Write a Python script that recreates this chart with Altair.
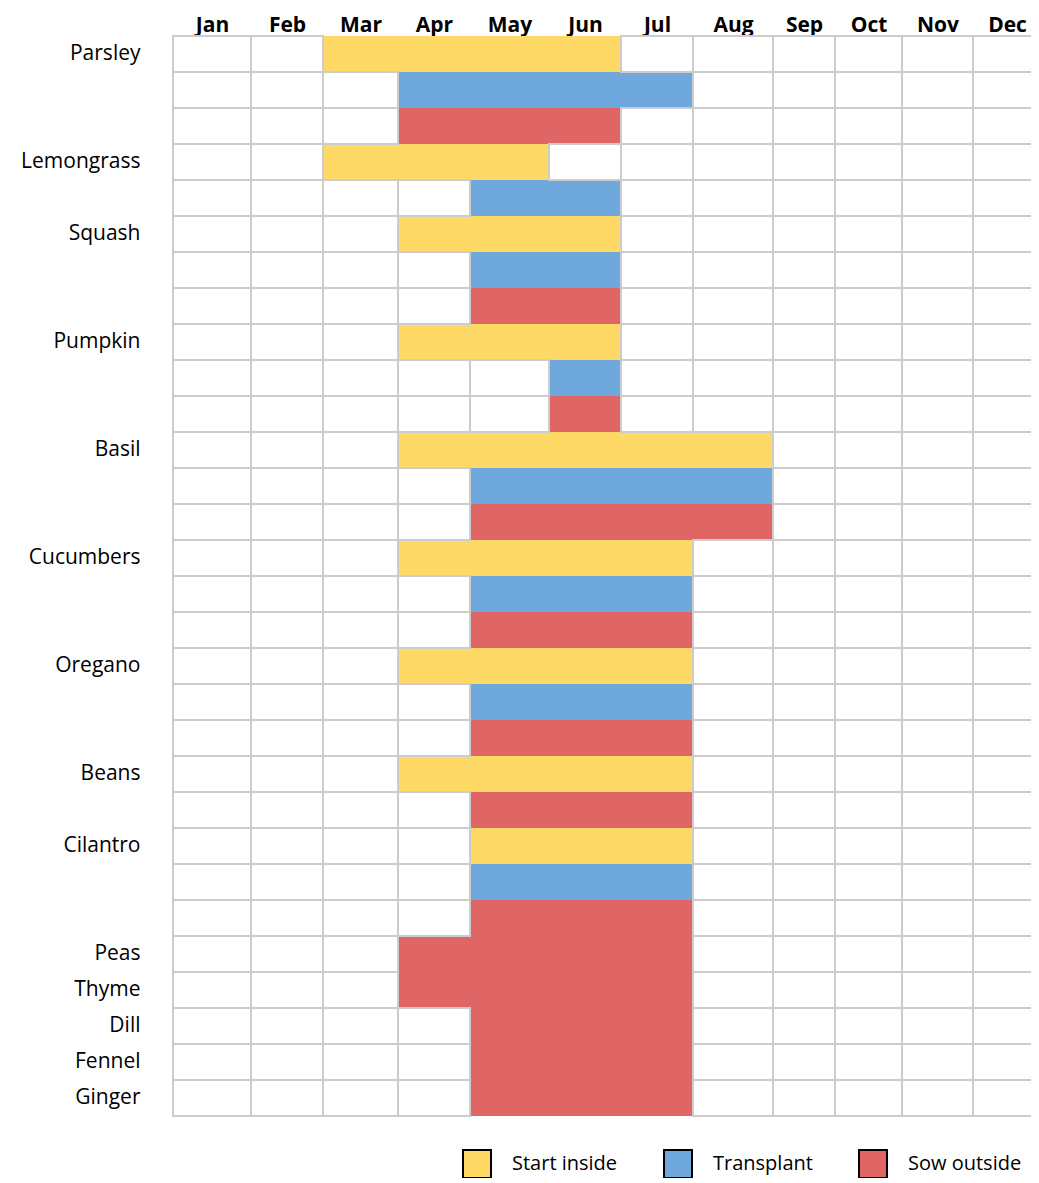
import json
import altair as alt
import pandas as pd

months = ["Jan", "Feb", "Mar", "Apr", "May", "Jun", "Jul", "Aug", "Sep", "Oct", "Nov", "Dec"]

row_plant = ["Parsley", "Parsley", "Parsley",
             "Lemongrass", "Lemongrass",
             "Squash", "Squash", "Squash",
             "Pumpkin", "Pumpkin", "Pumpkin",
             "Basil", "Basil", "Basil",
             "Cucumbers", "Cucumbers", "Cucumbers",
             "Oregano", "Oregano", "Oregano",
             "Beans", "Beans",
             "Cilantro", "Cilantro", "Cilantro",
             "Peas", "Thyme", "Dill", "Fennel", "Ginger"]
row_activity = ["Start inside", "Transplant", "Sow outside",
                "Start inside", "Transplant",
                "Start inside", "Transplant", "Sow outside",
                "Start inside", "Transplant", "Sow outside",
                "Start inside", "Transplant", "Sow outside",
                "Start inside", "Transplant", "Sow outside",
                "Start inside", "Transplant", "Sow outside",
                "Start inside", "Sow outside",
                "Start inside", "Transplant", "Sow outside",
                "Sow outside", "Sow outside", "Sow outside", "Sow outside", "Sow outside"]
row_start = [3, 4, 4,
             3, 5,
             4, 5, 5,
             4, 6, 6,
             4, 5, 5,
             4, 5, 5,
             4, 5, 5,
             4, 5,
             5, 5, 5,
             4, 4, 5, 5, 5]
row_end = [6, 7, 6,
           5, 6,
           6, 6, 6,
           6, 6, 6,
           8, 8, 8,
           7, 7, 7,
           7, 7, 7,
           7, 7,
           7, 7, 7,
           7, 7, 7, 7, 7]

activities = ["Start inside", "Transplant", "Sow outside"]
activity_colors = ["#FFD966", "#6FA8DC", "#E06666"]

# column edges (pixel layout of the month columns, styling only)
month_edges = [0, 78, 150, 225, 297, 376, 448, 520, 600, 662, 729, 800, 868]

# unique row keys; only first row of each plant shows its name
keys = []
seen = {}
for p in row_plant:
    k = seen.get(p, 0)
    seen[p] = k + 1
    keys.append(p if k == 0 else f"{p}~{k}")

bars_df = pd.DataFrame({
    "key": keys,
    "activity": row_activity,
    "m0": [s - 1 for s in row_start],
    "m1": row_end,
})

cells = []
for key, s, e in zip(keys, row_start, row_end):
    for m in range(1, 13):
        if not (s <= m <= e):
            cells.append({"key": key, "m0": m - 1, "m1": m})
cells_df = pd.DataFrame(cells)

xscale = alt.Scale(domain=list(range(13)), range=month_edges, nice=False, zero=False)
xaxis = alt.Axis(
    orient="top", values=[i + 0.5 for i in range(12)],
    labelExpr=f"{json.dumps(months)}[floor(datum.value)]",
    grid=False, domain=False, ticks=False, tickSize=0, title=None,
    labelFont="Open Sans", labelFontSize=21, labelFontWeight="bold", labelColor="black",
    labelBaseline="alphabetic", labelPadding=5, labelFlush=False, labelOverlap=False,
    labelBound=False,
)
yscale = alt.Scale(paddingInner=0, paddingOuter=0)
yaxis = alt.Axis(
    labelExpr="indexof(datum.value, '~') >= 0 ? '' : datum.value",
    grid=False, domain=False, ticks=False, tickSize=0, title=None,
    labelFont="Open Sans", labelFontSize=21, labelColor="black", labelPadding=33,
    labelLimit=300,
)

bars = alt.Chart(bars_df).mark_rect().encode(
    x=alt.X("m0:Q", scale=xscale, axis=xaxis),
    x2="m1:Q",
    y=alt.Y("key:N", sort=keys, scale=yscale, axis=yaxis),
    color=alt.Color(
        "activity:N",
        scale=alt.Scale(domain=activities, range=activity_colors),
        legend=alt.Legend(
            orient="none", legendX=289, legendY=1113, direction="horizontal",
            title=None, symbolType="square", symbolSize=784,
            symbolStrokeColor="black", symbolStrokeWidth=2, symbolOpacity=1,
            labelFont="Open Sans", labelFontSize=20, labelColor="black",
            labelOffset=20, columnPadding=42, padding=0,
        ),
    ),
)

grid = alt.Chart(cells_df).mark_rect(fill="white", stroke="#cccccc", strokeWidth=2).encode(
    x=alt.X("m0:Q", scale=xscale, axis=xaxis),
    x2="m1:Q",
    y=alt.Y("key:N", sort=keys, scale=yscale, axis=yaxis),
)

chart = alt.layer(bars, grid).properties(
    width=858, height=1080,
    autosize=alt.AutoSizeParams(type="none"),
    padding={"left": 165, "top": 28, "right": 0, "bottom": 62},
).configure_view(stroke=None)

chart.save("out.html", embed_options={"renderer": "svg", "actions": False})
